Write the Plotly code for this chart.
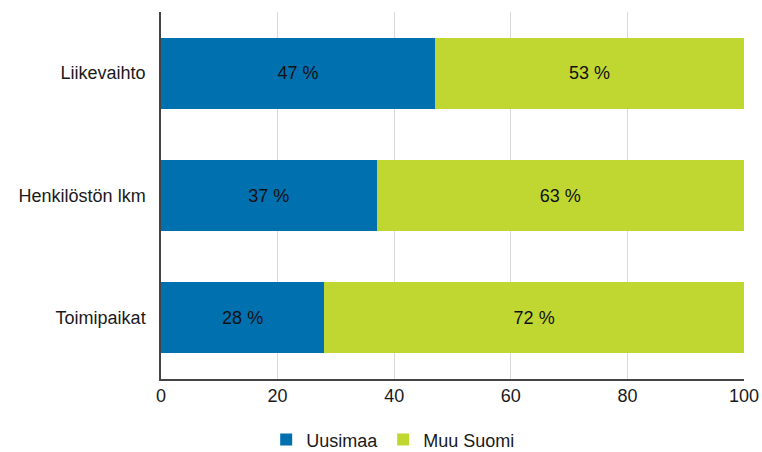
import plotly.graph_objects as go

categories = ["Liikevaihto", "Henkilöstön lkm", "Toimipaikat"]
uusimaa = [47, 37, 28]
muu_suomi = [53, 63, 72]
x_ticks = [0, 20, 40, 60, 80, 100]

FONT = "Liberation Sans, Arial, sans-serif"

fig = go.Figure()
fig.add_trace(go.Bar(
    y=categories, x=uusimaa, name="Uusimaa", orientation="h",
    marker=dict(color="#0070AF", line=dict(width=0)),
    text=[f"{v} %" for v in uusimaa], textposition="inside",
    insidetextanchor="middle", textfont=dict(color="#111111", size=18, family=FONT),
))
fig.add_trace(go.Bar(
    y=categories, x=muu_suomi, name="Muu Suomi", orientation="h",
    marker=dict(color="#BFD730", line=dict(width=0)),
    text=[f"{v} %" for v in muu_suomi], textposition="inside",
    insidetextanchor="middle", textfont=dict(color="#111111", size=18, family=FONT),
))

fig.update_layout(
    barmode="stack",
    bargap=0.42,
    width=762, height=452,
    margin=dict(l=161, r=18, t=12, b=73, autoexpand=False),
    paper_bgcolor="white", plot_bgcolor="white",
    font=dict(family=FONT, size=18, color="#1a1a1a"),
    legend=dict(orientation="h", xref="container", x=0.516, xanchor="center",
                yref="container", y=0.027, yanchor="middle",
                font=dict(size=18, family=FONT), traceorder="normal",
                itemwidth=30, tracegroupgap=0),
    xaxis=dict(range=[0, 100], tickvals=x_ticks, showgrid=True, gridcolor="#d9d9d9",
               gridwidth=1, showline=True, linecolor="#444444", linewidth=1.5,
               ticks="", zeroline=False, fixedrange=True),
    yaxis=dict(categoryorder="array", categoryarray=categories[::-1],
               showline=True, linecolor="#444444", linewidth=1.5, ticks="",
               ticksuffix="  ", showgrid=False, fixedrange=True),
)

fig.write_html("out.html", config={"displayModeBar": False},
               post_script="document.body.style.margin='0';")
